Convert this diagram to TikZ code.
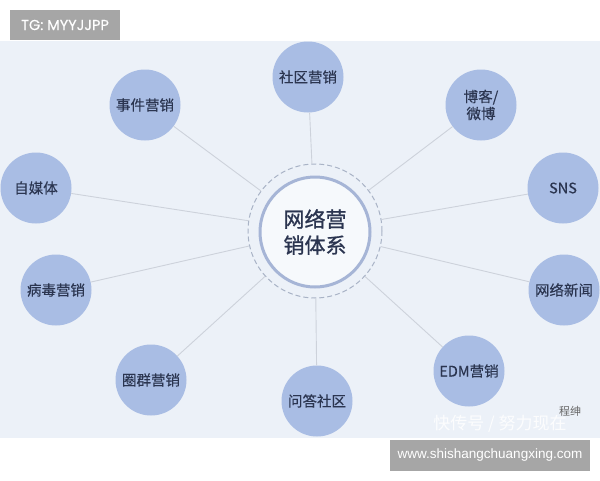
\documentclass[tikz,border=0pt]{standalone}
\usepackage{fontspec}
\setmainfont{Liberation Sans}
\newfontfamily\cjk[FakeBold=0.3]{Noto Sans CJK SC}
\newfontfamily\cjkc[FakeBold=1.0]{Noto Sans CJK SC}
\newfontfamily\cjkw{Noto Sans CJK SC}
\newfontfamily\tagfont[FakeBold=0.4]{Poppins}
\definecolor{bgc}{HTML}{ECF1F8}
\definecolor{fillc}{HTML}{A9BDE4}
\definecolor{txtc}{HTML}{2B3550}
\definecolor{linec}{HTML}{CDD2DB}
\definecolor{ringc}{HTML}{A6B5D6}
\definecolor{dashc}{HTML}{A9B3C6}
\definecolor{labc}{HTML}{A6A6A6}
\tikzset{
  topic/.style={circle,fill=fillc,minimum size=71pt,inner sep=0pt,text=txtc,font=\cjk\fontsize{14.5}{17}\selectfont,align=center},
  link/.style={draw=linec,line width=0.9pt},
  tag/.style={fill=labc,text=white,inner sep=0pt,font=\fontsize{13.5}{15}\selectfont}
}
\begin{document}
\begin{tikzpicture}[x=1pt,y=-1pt]
\useasboundingbox (0,0) rectangle (600,480);
\fill[white] (0,0) rectangle (600,480);
\fill[bgc] (0,41) rectangle (600,438);
% label top
\node[tag,font=\tagfont\fontsize{14.5}{16}\selectfont,minimum width=110pt,minimum height=30pt] (tg) at (65,25) {TG: MYYJJPP};
% center
\node[circle,draw=dashc,dashed,line width=1pt,dash pattern=on 5pt off 3pt,minimum size=134pt,inner sep=0pt] (hub) at (315,231) {};
\node[circle,draw=ringc,line width=3pt,fill=white!55!bgc,minimum size=110pt,inner sep=0pt,text=txtc,font=\cjkc\fontsize{21}{26}\selectfont,align=center] (core) at (315,232) {网络营\\销体系};
% topics
\node[topic] (a) at (308,77) {社区营销};
\node[topic] (b) at (481,105) {博客/\\微博};
\node[topic] (c) at (563,188) {SNS};
\node[topic] (d) at (564,290) {网络新闻};
\node[topic] (e) at (469,371) {EDM营销};
\node[topic] (f) at (317,401) {问答社区};
\node[topic] (g) at (151,380) {圈群营销};
\node[topic] (h) at (56,290) {病毒营销};
\node[topic] (i) at (36,188) {自媒体};
\node[topic] (j) at (145,105) {事件营销};
\foreach \t in {a,b,c,d,e,f,g,h,i,j}{
  \draw[link] (hub) -- (\t);
}
% watermark
\node[text=white,opacity=0.85,font=\cjkw\fontsize{17}{20}\selectfont,inner sep=0pt] (wm) at (500,424) {快传号 / 努力现在};
\node[text=gray!80!black,font=\cjkw\fontsize{11}{13}\selectfont,inner sep=0pt] (wm2) at (570,411) {程绅};
% bottom label
\node[tag,minimum width=200pt,minimum height=31pt] (site) at (490,455) {www.shishangchuangxing.com};
\end{tikzpicture}
\end{document}
